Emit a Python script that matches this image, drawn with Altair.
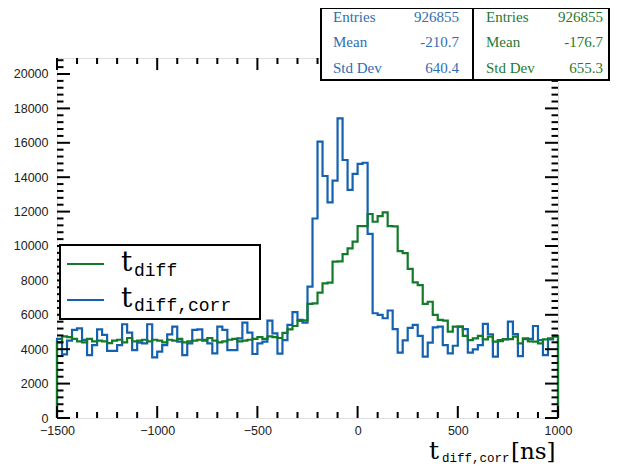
import altair as alt
import pandas as pd

X_MIN, X_MAX, BIN_W = -1500, 1000, 25
Y_MAX = 20930

blue_counts = [
    4600, 3700, 4500, 5120, 5210, 4540, 3660, 4240, 5150, 4830,
    3900, 3900, 4240, 5450, 4960, 3950, 4380, 4340, 5450, 3530,
    3860, 4240, 4860, 5310, 4440, 3660, 4340, 5120, 5150, 4540,
    4340, 3760, 5310, 5120, 3950, 3950, 4630, 5540, 4960, 3720,
    4340, 4440, 5660, 4920, 3740, 4530, 5410, 6160, 5700, 5540,
    7640, 11600, 16070, 14070, 12540, 13800, 17420, 15000, 13260, 14190,
    14770, 14840, 10700, 6090, 5990, 5800, 6250, 5170, 3800, 4510,
    5240, 5410, 4770, 3570, 4380, 5270, 5310, 4240, 3760, 4200,
    5310, 5170, 3800, 3990, 4240, 5470, 4870, 3570, 4530, 4570,
    5600, 4880, 3600, 4590, 4600, 5350, 4530, 3660, 4570, 4750,
]
green_counts = [
    4400, 4750, 4700, 4600, 4450, 4400, 4600, 4450, 4500, 4450,
    4350, 4500, 4550, 4400, 4650, 4450, 4500, 4550, 4450, 4550,
    4500, 4400, 4550, 4500, 4600, 4400, 4450, 4500, 4550, 4500,
    4650, 4500, 4400, 4450, 4550, 4600, 4450, 4500, 4550, 4600,
    4700, 4600, 4750, 4700, 4650, 4950, 5150, 5350, 5650, 5680,
    6640, 6660, 7290, 7830, 7870, 9090, 9110, 9530, 9860, 10250,
    11160, 11160, 11860, 11410, 11740, 11950, 11160, 11140, 9700, 9590,
    8670, 7880, 7730, 6630, 6760, 5990, 5700, 5660, 5020, 5310,
    5310, 4770, 4530, 4630, 4770, 4570, 4730, 4440, 4470, 4590,
    4590, 4730, 4340, 4630, 4460, 4440, 4340, 4570, 4630, 4750,
]

x_major = [-1500, -1000, -500, 0, 500, 1000]
x_minor = [v for v in range(-1500, 1001, 100) if v % 500 != 0]
y_major = list(range(0, 20001, 2000))
y_minor = [v for v in range(0, 20801, 400) if v % 2000 != 0]

stat_labels = ["Entries", "Mean", "Std Dev"]
stats_blue = ["926855", "-210.7", "640.4"]
stats_green = ["926855", "-176.7", "655.3"]

BLUE = "#1461b0"
GREEN = "#137a2a"
BLUE_TXT = "#2f6db4"
GREEN_TXT = "#1f7a33"

W, H = 501, 360
OX, OY = 57, 58  # page position of the plot origin
X_PER_PX = (X_MAX - X_MIN) / W
Y_PER_PX = Y_MAX / H

xscale = alt.Scale(domain=[X_MIN, X_MAX], nice=False, zero=False)
yscale = alt.Scale(domain=[0, Y_MAX], nice=False, zero=True)

XAXIS = alt.Axis(values=x_major, ticks=False, domain=False, grid=False,
                 title=None, labelFlush=False, labelFontSize=12.5,
                 labelFont="Liberation Sans", labelColor="#222",
                 labelPadding=6, labelOverlap=False, format="d")
YAXIS = alt.Axis(values=y_major, ticks=False, domain=False, grid=False,
                 title=None, labelFontSize=12.5, labelFont="Liberation Sans",
                 labelColor="#222", labelPadding=9, labelOverlap=False,
                 format="d")


def steps(counts):
    rows = [{"x": X_MIN, "y": 0, "o": 0}]
    for k, v in enumerate(counts):
        lo = X_MIN + k * BIN_W
        rows.append({"x": lo, "y": v, "o": 2 * k + 1})
        rows.append({"x": lo + BIN_W, "y": v, "o": 2 * k + 2})
    rows.append({"x": X_MAX, "y": 0, "o": 2 * len(counts) + 1})
    return pd.DataFrame(rows)


one = pd.DataFrame({"a": [0]})


def hist(counts, color):
    return alt.Chart(steps(counts)).mark_line(
        color=color, strokeWidth=2.2, interpolate="linear"
    ).encode(
        x=alt.X("x:Q", scale=xscale, axis=XAXIS),
        y=alt.Y("y:Q", scale=yscale, axis=YAXIS),
        order="o:Q",
    )


def xticks(vals, length):
    L = length * Y_PER_PX
    rows = []
    for v in vals:
        rows.append({"x": v, "y": 0, "y2": L})
        rows.append({"x": v, "y": Y_MAX - L, "y2": Y_MAX})
    return alt.Chart(pd.DataFrame(rows)).mark_rule(color="black", strokeWidth=2).encode(
        x=alt.X("x:Q", scale=xscale, axis=XAXIS),
        y=alt.Y("y:Q", scale=yscale, axis=YAXIS),
        y2="y2:Q")


def yticks(vals, length):
    L = length * X_PER_PX
    rows = []
    for v in vals:
        rows.append({"x": X_MIN, "x2": X_MIN + L, "y": v})
        rows.append({"x": X_MAX - L, "x2": X_MAX, "y": v})
    return alt.Chart(pd.DataFrame(rows)).mark_rule(color="black", strokeWidth=2).encode(
        x=alt.X("x:Q", scale=xscale, axis=XAXIS),
        x2="x2:Q",
        y=alt.Y("y:Q", scale=yscale, axis=YAXIS))


def box(x0, y0, x1, y1):
    return alt.Chart(one).mark_rect(fill="white", stroke="black", strokeWidth=2).encode(
        x=alt.value(x0 - OX), x2=alt.value(x1 - OX),
        y=alt.value(y0 - OY), y2=alt.value(y1 - OY))


def hline(x0, x1, y, color):
    return alt.Chart(one).mark_rule(color=color, strokeWidth=2.2).encode(
        x=alt.value(x0 - OX), x2=alt.value(x1 - OX), y=alt.value(y - OY))


def txt(s, x, y, size, color="black", font="Liberation Serif", align="left",
        baseline="alphabetic"):
    return alt.Chart(one).mark_text(
        text=s, fontSize=size, color=color, font=font, align=align, baseline=baseline
    ).encode(x=alt.value(x - OX), y=alt.value(y - OY))


layers = [hist(blue_counts, BLUE), hist(green_counts, GREEN)]
layers += [xticks(x_major, 12), xticks(x_minor, 6)]
layers += [yticks(y_major, 13), yticks(y_minor, 6.5)]

# legend
layers.append(box(60, 245, 260, 319))
layers.append(hline(67, 104, 264, GREEN))
layers.append(hline(67, 104, 300, BLUE))
layers.append(txt("t", 121, 271, 28, font="DejaVu Serif"))
layers.append(txt("diff", 134, 276, 18, font="Liberation Mono"))
layers.append(txt("t", 121, 307, 28, font="DejaVu Serif"))
layers.append(txt("diff,corr", 134, 311, 18, font="Liberation Mono"))

# stat boxes
layers.append(box(321, 8, 473, 80))
layers.append(box(473, 8, 609, 80))
rows_y = [17, 42, 68]
for lab, vb, vg, ry in zip(stat_labels, stats_blue, stats_green, rows_y):
    layers.append(txt(lab, 333, ry, 15, color=BLUE_TXT, baseline="middle"))
    layers.append(txt(vb, 459, ry, 15, color=BLUE_TXT, align="right", baseline="middle"))
    layers.append(txt(lab, 486, ry, 15, color=GREEN_TXT, baseline="middle"))
    layers.append(txt(vg, 603, ry, 15, color=GREEN_TXT, align="right", baseline="middle"))

# x axis title
layers.append(txt("t", 429, 459, 25, font="DejaVu Serif"))
layers.append(txt("diff,corr", 442, 462, 12.5, font="Liberation Mono"))
layers.append(txt("[ns]", 511, 459, 23, font="DejaVu Serif"))

chart = alt.layer(*layers).properties(
    width=W, height=H,
    padding={"left": 49, "top": 50, "right": 52, "bottom": 48},
    autosize=alt.AutoSizeParams(type="none"),
).configure_view(stroke="black", strokeWidth=2).configure(background="white")

chart.save("out.html", embed_options={"renderer": "svg", "actions": False})
